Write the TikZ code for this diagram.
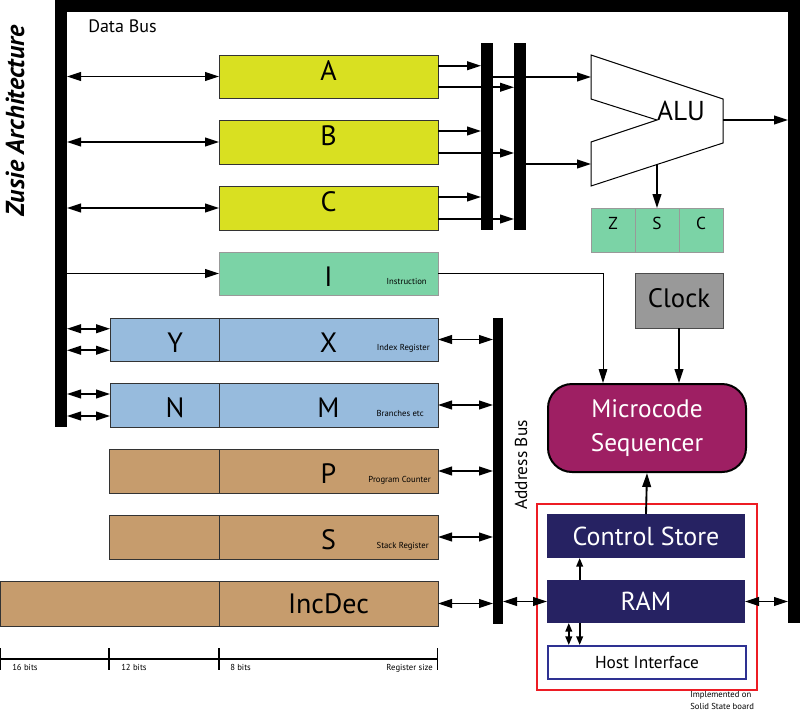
\documentclass[tikz,border=0pt]{standalone}
\usepackage{fontspec}
\setmainfont{PT Sans}
\usetikzlibrary{arrows.meta,calc}

\definecolor{regyellow}{HTML}{D9E021}
\definecolor{regmint}{HTML}{7BD3A6}
\definecolor{regblue}{HTML}{97BBDD}
\definecolor{regtan}{HTML}{C69C6D}
\definecolor{clockgray}{HTML}{999999}
\definecolor{seqpurple}{HTML}{9E1F63}
\definecolor{storenavy}{HTML}{262262}
\definecolor{hostblue}{HTML}{2E3192}
\definecolor{boardred}{HTML}{ED1C24}

\tikzset{
  wh/.style 2 args={minimum width=#1*0.75pt, minimum height=#2*0.75pt},
  bus/.style={fill=black, inner sep=0pt, outer sep=0pt, anchor=north west},
  reg/.style={draw=black!80, line width=.75pt, inner sep=0pt, outer sep=0pt, anchor=north west,
    font=\fontsize{21pt}{24pt}\selectfont, text height=14.7pt, text depth=0pt},
  up/.style={text depth=9pt},
  dn/.style={text height=19pt},
  flag/.style={fill=regmint, draw=black!40, font=\fontsize{13pt}{15pt}\selectfont,
    text height=9pt, text depth=10.5pt},
  blk/.style={fill=storenavy, text=white, inner sep=0pt, outer sep=0pt, anchor=north west,
    font=\fontsize{19.5pt}{22pt}\selectfont},
  note/.style={font=\fontsize{6.5pt}{8pt}\selectfont, inner sep=0pt},
  arr/.style={-{Triangle[length=10.5pt,width=6.5pt]}, line width=1.4pt},
  arrs/.style={{Triangle[length=10.5pt,width=6.5pt]}-{Triangle[length=10.5pt,width=6.5pt]}, line width=1.4pt},
  tip/.style={-{Triangle[length=6.5pt,width=5pt]}, line width=1.3pt},
  tips/.style={{Triangle[length=6.5pt,width=5pt]}-{Triangle[length=6.5pt,width=5pt]}, line width=1.3pt},
}

\begin{document}
\begin{tikzpicture}[x=0.75pt,y=-0.75pt]
  \useasboundingbox (0,0) rectangle (800,714);

  % buses
  \node[bus, wh={745}{12}] (dbtop) at (55,0) {};
  \node[bus, wh={12}{427}] (dbleft) at (55,0) {};
  \node[bus, wh={12}{623}] (dbright) at (788,0) {};
  \node[bus, wh={12}{187}] (mux1) at (481,43) {};
  \node[bus, wh={12}{187}] (mux2) at (514,43) {};
  \node[bus, wh={10}{306}] (abus) at (493,318) {};
  \node[anchor=base west, inner sep=0pt, font=\fontsize{13.5pt}{16pt}\selectfont] (dblbl) at (88,32) {Data Bus};
  \node[rotate=90, inner sep=0pt, font=\fontsize{13pt}{16pt}\selectfont] (ablbl) at (521,465) {Address Bus};
  \node[rotate=90, inner sep=0pt, font=\fontsize{19.5pt}{22pt}\selectfont\bfseries\itshape] (title) at (15,121) {Zusie Architecture};

  % registers
  \node[reg, up, fill=regyellow, wh={219}{43}] (ra) at (219,55) {A};
  \node[reg, up, fill=regyellow, wh={219}{44}] (rb) at (219,120) {B};
  \node[reg, up, fill=regyellow, wh={219}{44}] (rc) at (219,186) {C};
  \node[reg, dn, fill=regmint, draw=black!40, wh={219}{43}] (ri) at (219,252) {I};
  \node[reg, dn, fill=regblue, wh={109}{43}] (ry) at (110,318) {\hspace{16pt}Y};
  \node[reg, dn, fill=regblue, wh={219}{43}] (rx) at (219,318) {X};
  \node[reg, dn, fill=regblue, wh={109}{44}] (rn) at (110,383) {\hspace{16pt}N};
  \node[reg, dn, fill=regblue, wh={219}{44}] (rm) at (219,383) {M};
  \node[reg, fill=regtan, wh={110}{44}] (rpl) at (109,449) {};
  \node[reg, dn, fill=regtan, wh={219}{44}] (rp) at (219,449) {P};
  \node[reg, fill=regtan, wh={110}{44}] (rsl) at (109,515) {};
  \node[reg, dn, fill=regtan, wh={219}{44}] (rs) at (219,515) {S};
  \node[reg, fill=regtan, wh={219}{45}] (rhi) at (0,581) {};
  \node[reg, fill=regtan, wh={219}{45}] (rincdec) at (219,581) {IncDec};

  \node[note, anchor=base east] (ni) at ([shift={(-11,-11)}]ri.south east) {Instruction};
  \node[note, anchor=base east] (nx) at ([shift={(-8,-11)}]rx.south east) {Index Register};
  \node[note, anchor=base east] (nm) at ([shift={(-14,-11)}]rm.south east) {Branches etc};
  \node[note, anchor=base east] (np) at ([shift={(-7,-11)}]rp.south east) {Program Counter};
  \node[note, anchor=base east] (ns) at ([shift={(-9,-11)}]rs.south east) {Stack Register};

  % ALU and flags
  \draw[line width=.75pt, fill=white] (591,55) -- (723,99) -- (723,143) -- (591,186)
    -- (591,142) -- (657,120) -- (591,99) -- cycle;
  \coordinate (alua) at (591,77);
  \coordinate (alub) at (591,164);
  \coordinate (aluout) at (723,120);
  \coordinate (aluflag) at (657,164.5);
  \node[inner sep=0pt, font=\fontsize{20.5pt}{24pt}\selectfont] (alulbl) at (681,111) {ALU};
  \node[reg, flag, wh={44}{44}] (fz) at (591,208) {Z\hspace{10pt}};
  \node[reg, flag, wh={44}{44}] (fs) at (635,208) {S\hspace{10pt}};
  \node[reg, flag, wh={44}{44}] (fc) at (679,208) {C\hspace{10pt}};

  % control side
  \node[reg, fill=clockgray, draw=black!70, wh={88}{55}, font=\fontsize{20pt}{24pt}\selectfont,
    text height=14pt, text depth=4pt] (clock) at (635,273) {Clock};
  \node[draw=black, line width=1.5pt, fill=seqpurple, rounded corners=18pt, text=white,
    anchor=north west, wh={198}{88}, inner sep=0pt, align=center,
    font=\fontsize{19pt}{26pt}\selectfont] (mseq) at (547,383) {Microcode\\Sequencer};
  \node[draw=boardred, line width=1.5pt, anchor=north west, wh={220}{186}, inner sep=0pt] (board) at (536,503) {};
  \node[blk, wh={198}{44}] (cstore) at (547,514) {Control Store};
  \node[blk, wh={198}{43}] (ram) at (547,580) {RAM};
  \node[draw=hostblue, line width=1.5pt, fill=white, anchor=north west, wh={198}{33}, inner sep=0pt,
    font=\fontsize{13pt}{15pt}\selectfont] (host) at (547,645) {Host Interface};
  \node[note, anchor=north west, align=left, font=\fontsize{6.5pt}{9pt}\selectfont] (bnote) at (690,691)
    {Implemented on\\Solid State board};

  % register size scale
  \draw[line width=.9pt] (0.6,659) -- (438,659);
  \foreach \xx in {0.6,109,219,437.5}
    \draw[line width=.9pt] (\xx,648) -- (\xx,670);
  \node[note, anchor=base west] (s16) at (12,670) {16 bits};
  \node[note, anchor=base west] (s12) at (121,670) {12 bits};
  \node[note, anchor=base west] (s8) at (230,670) {8 bits};
  \node[note, anchor=base east] (ssz) at (433,670) {Register size};

  % data bus connections
  \foreach \nm in {ra,rb,rc} {
    \draw[arrs] (dbleft.east |- \nm.west) -- (\nm.west);
    \path ($(\nm.north east)!.25!(\nm.south east)$) coordinate (o1)
          ($(\nm.north east)!.75!(\nm.south east)$) coordinate (o2);
    \draw[arr] (o1) -- (o1 -| mux1.west);
    \draw[arr] (o2) -- (o2 -| mux2.west);
  }
  \foreach \nm in {ry,rn} {
    \path ($(\nm.north west)!.25!(\nm.south west)$) coordinate (o1)
          ($(\nm.north west)!.75!(\nm.south west)$) coordinate (o2);
    \draw[arrs] (dbleft.east |- o1) -- (o1);
    \draw[arrs] (dbleft.east |- o2) -- (o2);
  }
  \draw[arr] (mux1.east |- alua) -- (alua);
  \draw[arr] (mux2.east |- alub) -- (alub);
  \draw[arr] (aluout) -- (aluout -| dbright.west);
  \draw[arr] (aluflag) -- (fs.north);
  \draw[arr] (dbleft.east |- ri.west) -- (ri.west);
  \coordinate (seqin) at ($(mseq.north west)!.28!(mseq.north east)$);
  \draw[line width=.75pt, -{Triangle[length=10.5pt,width=6.5pt]}] (ri.east) -| (seqin);
  \draw[arr] (clock.south) -- (clock.south |- mseq.north);

  % address bus connections
  \foreach \nm in {rx,rm,rp,rs,rincdec}
    \draw[arrs] (\nm.east) -- (\nm.east -| abus.west);
  \draw[arrs] (abus.east |- ram.west) -- (ram.west);
  \draw[arrs] (ram.east) -- (ram.east -| dbright.west);

  % board
  \draw[arr] (cstore.north) -- (mseq.south);
  \coordinate (rc1) at ($(ram.north west)!.165!(ram.north east)$);
  \draw[tip] (rc1) -- (rc1 |- cstore.south);
  \coordinate (rh1) at ($(ram.south west)!.11!(ram.south east)$);
  \coordinate (rh2) at ($(ram.south west)!.165!(ram.south east)$);
  \draw[tips] (rh1) -- (rh1 |- host.north);
  \draw[tip] (rh2) -- (rh2 |- host.north);
\end{tikzpicture}
\end{document}
